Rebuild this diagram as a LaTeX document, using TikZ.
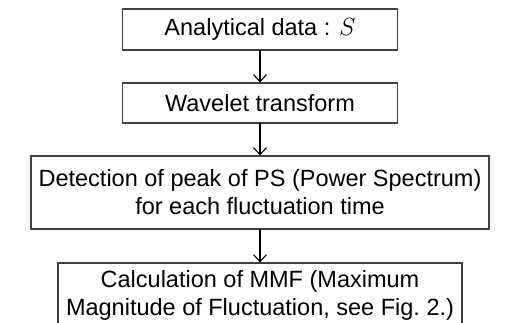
\documentclass[tikz,border=0pt]{standalone}
\usepackage{fontspec}
\setmainfont{Liberation Sans}
\usetikzlibrary{arrows.meta,positioning}

\begin{document}
\begin{tikzpicture}[
  x=1pt, y=-1pt,
  font=\fontsize{23.5}{28}\selectfont,
  stepbox/.style={draw=black!75, line width=1.2pt, align=center, inner sep=0pt},
  flow/.style={line width=1.1pt, line cap=round,
    -{Straight Barb[length=7pt,width=13pt,line width=1.1pt]}}
]
\useasboundingbox (0,0) rectangle (505,323);

\def\xMid{260}

% ------------------------
% Steps
% ------------------------
\node[stepbox, minimum width=275pt, minimum height=41pt] (data) at (\xMid,29.5)
  {Analytical data : $S$};
\node[stepbox, minimum width=275pt, minimum height=40pt] (wave) at (\xMid,103)
  {Wavelet transform};
\node[stepbox, minimum width=458pt, minimum height=73pt] (peak) at (\xMid,192.5)
  {Detection of peak of PS (Power Spectrum)\\for each fluctuation time};
\node[stepbox, minimum width=404pt, minimum height=64pt] (mmf) at (\xMid,295)
  {Calculation of MMF (Maximum\\Magnitude of Fluctuation, see Fig.~2.)};

% Arrows
\draw[flow] (data.south) -- (wave.north);
\draw[flow] (wave.south) -- (peak.north);
\draw[flow] (peak.south) -- (mmf.north);

\end{tikzpicture}
\end{document}
